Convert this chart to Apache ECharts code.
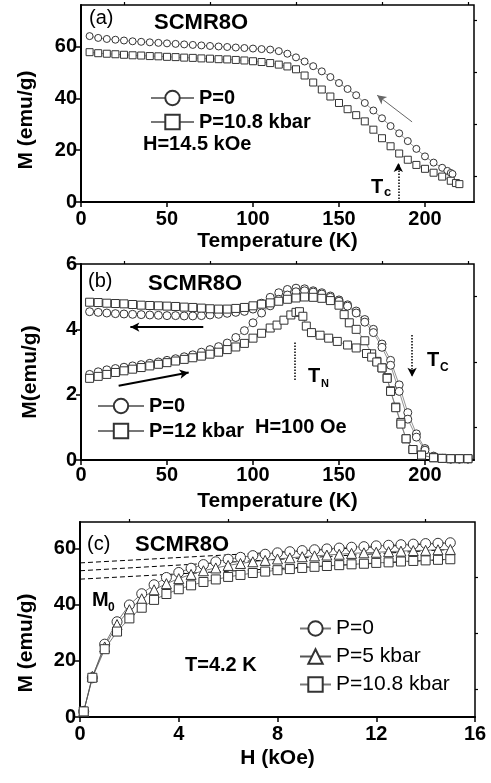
<!DOCTYPE html>
<html><head><meta charset="utf-8">
<script src="https://cdn.jsdelivr.net/npm/echarts@6/dist/echarts.min.js"></script>
<style>html,body{margin:0;padding:0;background:#fff}#c{width:491px;height:783px}</style>
</head><body><div id="c"></div><script>
// ---------- panel (a): M vs T at H = 14.5 kOe ----------
const tA0 = [5,10,15,20,25,30,35,40,45,50,55,60,65,70,75,80,85,90,95,100,105,110,115,120,125,130,135,140,145,150,155,160,165,170,175,180,185,190,195,200,205,210,213,215,216];
const mA0 = [64.0,63.3,62.9,62.6,62.3,62.0,61.8,61.6,61.4,61.2,61.0,60.8,60.6,60.4,60.2,60.0,59.8,59.6,59.4,59.2,59.0,58.8,58.2,57.2,55.8,54.2,52.4,50.4,48.2,45.9,43.6,41.2,38.2,35.3,32.3,29.3,26.5,23.5,20.5,17.6,15.2,13.2,12.0,11.2,10.8];
const tA1 = [5,10,15,20,25,30,35,40,45,50,55,60,65,70,75,80,85,90,95,100,105,110,115,120,125,130,135,140,145,150,155,160,165,170,175,180,185,190,195,200,205,210,215,218,220];
const mA1 = [57.8,57.4,57.2,57.0,56.8,56.6,56.5,56.3,56.2,56.0,55.9,55.7,55.6,55.4,55.3,55.1,55.0,54.8,54.6,54.3,54.0,53.6,53.0,52.3,51.2,48.8,46.1,43.4,40.7,38.2,35.8,33.5,31.1,27.9,24.6,21.5,18.7,16.3,14.3,12.8,11.3,9.8,8.2,7.3,6.9];

// ---------- panel (b): M vs T at H = 100 Oe (FC and ZFC branches) ----------
const tB0 = [5,10,15,20,25,30,35,40,45,50,55,60,65,70,75,80,85,90,95,100,105,110,115,120,125,130,135,140,145,150,155,160,165,170,175,180,185,190,195,200,205,210,215,220,225];
const mB0fc = [4.54,4.52,4.50,4.48,4.47,4.46,4.45,4.44,4.43,4.42,4.42,4.41,4.41,4.42,4.44,4.46,4.49,4.52,4.55,4.62,4.80,4.98,5.12,5.22,5.26,5.24,5.18,5.12,5.02,4.90,4.75,4.56,4.30,4.00,3.55,3.05,2.30,1.45,0.80,0.35,0.12,0.05,0.03,0.03,0.03];
const mB0zfc = [2.62,2.70,2.76,2.80,2.84,2.88,2.92,2.96,3.00,3.05,3.10,3.16,3.22,3.30,3.38,3.47,3.58,3.75,3.96,4.20,4.50,4.72,4.92,5.05,5.15,5.18,5.14,5.08,4.98,4.86,4.71,4.50,4.22,3.90,3.45,2.90,2.10,1.25,0.70,0.30,0.10,0.05,0.03,0.03,0.03];
const tB1fc = [5,10,15,20,25,30,35,40,45,50,55,60,65,70,75,80,85,90,95,100,105,110,115,120,125,130,135,140,145,150,153,156,160,165,169,172,175,178,180,183,186,189,193,198,205,210,215,220,225];
const mB1fc = [4.83,4.82,4.80,4.79,4.78,4.76,4.74,4.73,4.72,4.71,4.70,4.68,4.67,4.65,4.63,4.62,4.62,4.64,4.67,4.72,4.77,4.81,4.86,4.92,4.96,4.99,4.98,4.95,4.88,4.74,4.45,4.20,4.00,3.65,3.25,3.02,2.82,2.52,2.12,1.62,1.15,0.65,0.32,0.15,0.07,0.05,0.04,0.04,0.04];
const tB1zfc = [5,10,15,20,25,30,35,40,45,50,55,60,65,70,75,80,85,90,95,100,105,110,114,118,122,125,127,129,131,134,139,144,149,155,160,166,169,172,175,178,180,183,186,189,193,198,205,210,215,220,225];
const mB1zfc = [2.50,2.56,2.62,2.68,2.73,2.78,2.83,2.88,2.93,2.98,3.03,3.08,3.13,3.18,3.24,3.30,3.38,3.46,3.57,3.73,3.88,4.04,4.13,4.28,4.44,4.52,4.54,4.40,4.10,3.90,3.82,3.73,3.63,3.52,3.43,3.26,3.15,3.00,2.82,2.50,2.10,1.60,1.10,0.65,0.32,0.15,0.07,0.05,0.04,0.04,0.04];

// ---------- panel (c): M vs H at T = 4.2 K ----------
const hC = [0.15,0.5,1,1.5,2,2.5,3,3.5,4,4.5,5,5.5,6,6.5,7,7.5,8,8.5,9,9.5,10,10.5,11,11.5,12,12.5,13,13.5,14,14.5,15];
const mC0 = [2,14,26,34,40,44,47.2,49.8,51.6,53.1,54.4,55.4,56.3,57.0,57.6,58.1,58.6,59.0,59.4,59.7,60.0,60.3,60.6,60.8,61.1,61.3,61.5,61.7,61.9,62.0,62.2];
const mC5 = [2,14.5,25,33,38.3,42.2,45.4,47.6,49.4,50.9,52.2,53.2,54.1,54.8,55.4,55.9,56.4,56.8,57.2,57.5,57.8,58.1,58.4,58.6,58.8,59.0,59.2,59.4,59.5,59.7,59.8];
const mC10 = [2,14,24.2,30.5,35.2,39.0,41.8,43.9,45.6,47.0,48.2,49.1,50.0,50.7,51.4,51.9,52.4,52.8,53.2,53.6,53.9,54.2,54.5,54.7,55.0,55.2,55.5,55.7,55.9,56.1,56.3];
// high-field linear fits, extrapolated back to H = 0 (intercept = M0)
const fitH = [0, 15];
const fitC0 = [55.0, 62.2];
const fitC5 = [52.2, 59.8];
const fitC10 = [49.2, 56.3];

// ---------- axes ----------
const xTicksA = [0,50,100,150,200], xMinorA = [25,75,125,175,225];
const yTicksA = [0,20,40,60], yMinorA = [10,30,50,70];
const yTicksB = [0,2,4,6], yMinorB = [1,3,5];
const xTicksC = [0,4,8,12,16], xMinorC = [2,6,10,14];
const yTicksC = [0,20,40,60], yMinorC = [10,30,50];

const FONT = 'Liberation Sans, Arial, sans-serif';
const zip = (a, b) => a.map((v, i) => [v, b[i]]);

function majorAxis(grid, min, max, ticks, name, gap, isY, labelMargin, shift) {
  return {
    type: 'value', gridIndex: grid, min: min, max: max,
    axisLine: {show: true, onZero: false, lineStyle: {color: '#000', width: 2}},
    axisTick: {show: true, inside: false, length: 5, customValues: ticks, lineStyle: {color: '#000', width: 1.5}},
    axisLabel: {customValues: ticks, color: '#000', fontFamily: FONT, fontWeight: 'bold', fontSize: 20, margin: labelMargin},
    splitLine: {show: false},
    name: name, nameLocation: 'middle', nameGap: gap, nameRotate: isY ? 90 : 0,
    nameTextStyle: {color: '#000', fontFamily: FONT, fontWeight: 'bold', fontSize: 21,
                    padding: shift ? [0, shift, 0, 0] : 0}
  };
}
function minorAxis(grid, min, max, ticks) {
  return {
    type: 'value', gridIndex: grid, min: min, max: max,
    axisLine: {show: false, onZero: false},
    axisTick: {show: true, inside: false, length: 3, customValues: ticks, lineStyle: {color: '#000', width: 1.2}},
    axisLabel: {show: false}, splitLine: {show: false}
  };
}

const openStyle = {color: '#fff', borderColor: '#333', borderWidth: 1};
function dataSeries(name, sym, size, xi, yi, data, lineColor) {
  return {
    name: name, type: 'line', xAxisIndex: xi, yAxisIndex: yi, data: data,
    symbol: sym, symbolSize: size, showSymbol: true,
    itemStyle: openStyle, lineStyle: {color: lineColor || '#777', width: 0.8},
    emphasis: {disabled: true}, animation: false, z: 3
  };
}

const arrowLine = (pts, color, width, type, head) => ({
  silent: true, symbol: ['none', head ? 'arrow' : 'none'], symbolSize: [7, 9],
  label: {show: false},
  lineStyle: {color: color, width: width, type: type},
  data: [[{coord: pts[0]}, {coord: pts[1]}]]
});

const chart = echarts.init(document.getElementById('c'), null, {renderer: 'canvas'});

const txt = (x, y, s, size, weight) => ({
  type: 'text', left: x, top: y, z: 10,
  style: {text: s, fontSize: size, fontWeight: weight || 'bold', fontFamily: FONT, fill: '#000'}
});
const legendText = (w, size) => ({fontFamily: FONT, fontWeight: w, fontSize: size, color: '#000'});

chart.setOption({
  animation: false,
  backgroundColor: '#fff',
  grid: [
    {left: 81, top: 5, width: 393, height: 197, show: true, borderColor: '#000', borderWidth: 1.5, backgroundColor: 'transparent'},
    {left: 81, top: 264, width: 393, height: 196, show: true, borderColor: '#000', borderWidth: 1.5, backgroundColor: 'transparent'},
    {left: 80, top: 522, width: 395, height: 195, show: true, borderColor: '#000', borderWidth: 1.5, backgroundColor: 'transparent'}
  ],
  xAxis: [
    majorAxis(0, 0, 228.5, xTicksA, 'Temperature (K)', 29, false, 7),
    minorAxis(0, 0, 228.5, xMinorA),
    majorAxis(1, 0, 228.5, xTicksA, 'Temperature (K)', 31, false, 5),
    minorAxis(1, 0, 228.5, xMinorA),
    majorAxis(2, 0, 16, xTicksC, 'H (kOe)', 31, false, 7),
    minorAxis(2, 0, 16, xMinorC)
  ],
  yAxis: [
    majorAxis(0, 0, 76, yTicksA, 'M (emu/g)', 44, true, 4, 33),
    minorAxis(0, 0, 76, yMinorA),
    majorAxis(1, 0, 6, yTicksB, 'M(emu/g)', 40, true, 4, 20),
    minorAxis(1, 0, 6, yMinorB),
    majorAxis(2, 0, 69.6, yTicksC, 'M (emu/g)', 43, true, 4, 47),
    minorAxis(2, 0, 69.6, yMinorC)
  ],
  legend: [
    {left: 150, top: 88, padding: 0, orient: 'vertical', itemWidth: 43, itemHeight: 18, itemGap: 4,
     data: ['P=0', 'P=10.8 kbar'], selectedMode: false, textStyle: legendText('bold', 20)},
    {left: 97, top: 396, padding: 0, orient: 'vertical', itemWidth: 46, itemHeight: 18, itemGap: 5,
     data: ['P=0', 'P=12 kbar'], selectedMode: false, textStyle: legendText('bold', 20)},
    {left: 299, top: 618, padding: 0, orient: 'vertical', itemWidth: 31, itemHeight: 18, itemGap: 7,
     data: ['P=0', 'P=5 kbar', 'P=10.8 kbar'], selectedMode: false, textStyle: legendText('normal', 21)}
  ],
  series: [
    // (a)
    Object.assign(dataSeries('P=0', 'circle', 7, 0, 0, zip(tA0, mA0)), {
      markLine: arrowLine([[192.5, 30.9], [172.2, 41.2]], '#666', 1, 'solid', true)
    }),
    Object.assign(dataSeries('P=10.8 kbar', 'rect', 7, 0, 0, zip(tA1, mA1)), {
      markLine: arrowLine([[184.5, 0], [184.5, 15]], '#000', 1.5, 'dotted', true)
    }),
    // (b)
    Object.assign(dataSeries('P=0', 'circle', 8, 2, 2, zip(tB0, mB0fc)), {
      markLine: arrowLine([[71.1, 4.07], [28.7, 4.07]], '#000', 2, 'solid', true)
    }),
    Object.assign(dataSeries('P=0', 'circle', 8, 2, 2, zip(tB0, mB0zfc)), {
      markLine: arrowLine([[21.9, 2.27], [62.6, 2.68]], '#000', 2, 'solid', true)
    }),
    Object.assign(dataSeries('P=12 kbar', 'rect', 8, 2, 2, zip(tB1fc, mB1fc)), {
      markLine: arrowLine([[124, 3.6], [124, 2.4]], '#000', 1.5, 'dotted', false)
    }),
    Object.assign(dataSeries('P=12 kbar', 'rect', 8, 2, 2, zip(tB1zfc, mB1zfc)), {
      markLine: arrowLine([[192.5, 3.83], [192.5, 2.55]], '#000', 1.5, 'dotted', true)
    }),
    // (c) dashed fits first so symbols sit on top
    {type: 'line', xAxisIndex: 4, yAxisIndex: 4, data: zip(fitH, fitC0), symbol: 'none', silent: true,
     lineStyle: {color: '#000', width: 1, type: [5, 3]}, z: 2},
    {type: 'line', xAxisIndex: 4, yAxisIndex: 4, data: zip(fitH, fitC5), symbol: 'none', silent: true,
     lineStyle: {color: '#000', width: 1, type: [5, 3]}, z: 2},
    {type: 'line', xAxisIndex: 4, yAxisIndex: 4, data: zip(fitH, fitC10), symbol: 'none', silent: true,
     lineStyle: {color: '#000', width: 1, type: [5, 3]}, z: 2},
    dataSeries('P=0', 'circle', 10, 4, 4, zip(hC, mC0), '#555'),
    dataSeries('P=5 kbar', 'triangle', 10, 4, 4, zip(hC, mC5), '#555'),
    dataSeries('P=10.8 kbar', 'rect', 9, 4, 4, zip(hC, mC10), '#555')
  ],
  graphic: [
    txt(89, 8, '(a)', 20, 'normal'),
    txt(154, 12, 'SCMR8O', 22),
    txt(143, 134, 'H=14.5 kOe', 20),
    txt(371, 177, 'T', 20), txt(384, 186, 'c', 13),
    txt(88, 271, '(b)', 20, 'normal'),
    txt(148, 273, 'SCMR8O', 22),
    txt(255, 417, 'H=100 Oe', 20),
    txt(308, 366, 'T', 20), txt(321, 378, 'N', 11),
    txt(427, 350, 'T', 20), txt(440, 362, 'C', 12),
    txt(87, 534, '(c)', 20, 'normal'),
    txt(135, 534, 'SCMR8O', 22),
    txt(92, 590, 'M', 20), txt(108, 602, '0', 12),
    txt(185, 655, 'T=4.2 K', 20)
  ]
});
</script></body></html>
